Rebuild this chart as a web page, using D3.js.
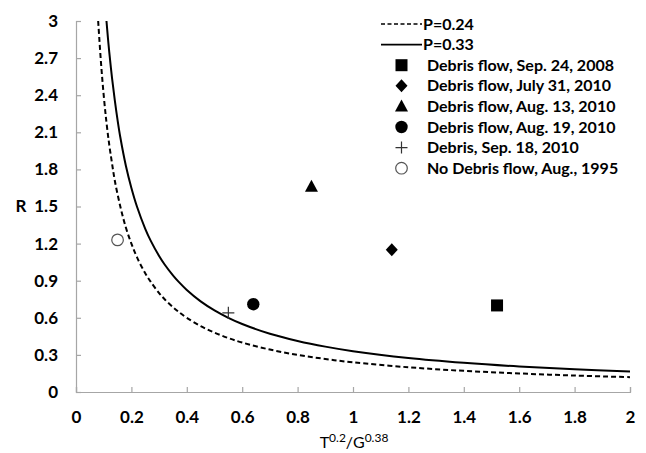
<!DOCTYPE html>
<html>
<head>
<meta charset="utf-8">
<script src="https://cdn.jsdelivr.net/npm/d3@7"></script>
<style>
  body { margin: 0; background: #fff; }
  text { font-family: Lato, "Open Sans", sans-serif; }
</style>
</head>
<body>
<div id="chart"></div>
<script>
// Plot constants
const WIDTH = 646;
const HEIGHT = 453;
const margin = {top: 21, right: 16, bottom: 61, left: 76};

// Threshold curves
const curveX24 = [0.08, 0.09, 0.1, 0.11, 0.12, 0.13, 0.14, 0.16, 0.18, 0.2, 0.22, 0.25, 0.27, 0.3, 0.32, 0.35, 0.37, 0.4, 0.45, 0.5, 0.55, 0.6, 0.7, 0.8, 0.9, 1, 1.2, 1.4, 1.6, 1.8, 2];
const curveR24 = [3.0, 2.67, 2.4, 2.18, 2.0, 1.85, 1.71, 1.5, 1.33, 1.2, 1.09, 0.96, 0.89, 0.8, 0.75, 0.686, 0.649, 0.6, 0.533, 0.48, 0.436, 0.4, 0.343, 0.3, 0.267, 0.24, 0.2, 0.171, 0.15, 0.133, 0.12];
const curveX33 = [0.11, 0.115, 0.12, 0.13, 0.14, 0.15, 0.16, 0.18, 0.2, 0.22, 0.25, 0.27, 0.3, 0.32, 0.35, 0.37, 0.4, 0.45, 0.5, 0.55, 0.6, 0.7, 0.8, 0.9, 1, 1.2, 1.4, 1.6, 1.8, 2];
const curveR33 = [3.0, 2.87, 2.75, 2.54, 2.36, 2.2, 2.06, 1.83, 1.65, 1.5, 1.32, 1.222, 1.1, 1.031, 0.943, 0.892, 0.825, 0.733, 0.66, 0.6, 0.55, 0.471, 0.413, 0.367, 0.33, 0.275, 0.236, 0.206, 0.183, 0.165];

// Events
const eventNames = [
  "Debris flow, Sep. 24, 2008",
  "Debris flow, July 31, 2010",
  "Debris flow, Aug. 13, 2010",
  "Debris flow, Aug. 19, 2010",
  "Debris, Sep. 18, 2010",
  "No Debris flow, Aug., 1995",
];
const eventX = [1.52, 1.14, 0.85, 0.64, 0.55, 0.15];
const eventR = [0.70, 1.15, 1.66, 0.71, 0.64, 1.23];
const eventShape = ["square", "diamond", "triangle", "circle", "cross", "open"];

const xTicks = [0, 0.2, 0.4, 0.6, 0.8, 1, 1.2, 1.4, 1.6, 1.8, 2];
const yTicks = [0, 0.3, 0.6, 0.9, 1.2, 1.5, 1.8, 2.1, 2.4, 2.7, 3];

const svg = d3.select("#chart").append("svg")
  .attr("width", WIDTH)
  .attr("height", HEIGHT);

const x = d3.scaleLinear().domain([0, 2]).range([margin.left, WIDTH - margin.right]);
const y = d3.scaleLinear().domain([0, 3]).range([HEIGHT - margin.bottom, margin.top]);

// Axes
const xAxis = svg.append("g")
  .attr("transform", `translate(0,${y(0)})`)
  .call(d3.axisBottom(x).tickValues(xTicks).tickSize(-5).tickPadding(19).tickFormat(d3.format("")));
const yAxis = svg.append("g")
  .attr("transform", `translate(${x(0)},0)`)
  .call(d3.axisLeft(y).tickValues(yTicks).tickSize(-5).tickPadding(18).tickFormat(d3.format("")));

[xAxis, yAxis].forEach(a => {
  a.select(".domain").attr("stroke", "#a6a6a6").attr("stroke-width", 1.2);
  a.selectAll(".tick line").attr("stroke", "#a6a6a6").attr("stroke-width", 1.2);
  a.selectAll(".tick text")
    .attr("fill", "#000")
    .attr("font-size", "17px")
    .attr("font-weight", "bold")
    .attr("font-family", "Lato, sans-serif");
});

// Axis titles
svg.append("text")
  .attr("x", 21).attr("y", y(1.5))
  .attr("dy", "0.35em")
  .attr("text-anchor", "middle")
  .attr("font-size", "17px").attr("font-weight", "bold")
  .text("R");

const xt = svg.append("text")
  .attr("x", 354).attr("y", 448)
  .attr("text-anchor", "middle")
  .attr("font-size", "16px");
xt.append("tspan").text("T");
xt.append("tspan").attr("font-size", "12px").attr("dy", -6).text("0.2");
xt.append("tspan").attr("dy", 6).text("/G");
xt.append("tspan").attr("font-size", "12px").attr("dy", -6).text("0.38");

// Curves
const line = d3.line().x(d => x(d[0])).y(d => y(d[1])).curve(d3.curveCatmullRom.alpha(0.5));
svg.append("path")
  .datum(d3.zip(curveX24, curveR24))
  .attr("d", line)
  .attr("fill", "none").attr("stroke", "#000")
  .attr("stroke-width", 2).attr("stroke-dasharray", "5,3");
svg.append("path")
  .datum(d3.zip(curveX33, curveR33))
  .attr("d", line)
  .attr("fill", "none").attr("stroke", "#000")
  .attr("stroke-width", 2);

// Markers
function drawMarker(g, shape, cx, cy) {
  if (shape === "square") {
    g.append("rect").attr("x", cx - 6).attr("y", cy - 6).attr("width", 12).attr("height", 12).attr("fill", "#000");
  } else if (shape === "diamond") {
    g.append("path").attr("d", `M${cx},${cy - 6.5}L${cx + 6},${cy}L${cx},${cy + 6.5}L${cx - 6},${cy}Z`).attr("fill", "#000");
  } else if (shape === "triangle") {
    g.append("path").attr("d", `M${cx},${cy - 7}L${cx + 6.5},${cy + 5}L${cx - 6.5},${cy + 5}Z`).attr("fill", "#000");
  } else if (shape === "circle") {
    g.append("circle").attr("cx", cx).attr("cy", cy).attr("r", 6.2).attr("fill", "#000");
  } else if (shape === "cross") {
    g.append("path").attr("d", `M${cx - 6},${cy}H${cx + 6}M${cx},${cy - 6}V${cy + 6}`)
      .attr("stroke", "#333").attr("stroke-width", 1.2).attr("fill", "none");
  } else {
    g.append("circle").attr("cx", cx).attr("cy", cy).attr("r", 5.8)
      .attr("fill", "#fff").attr("stroke", "#555").attr("stroke-width", 1.2);
  }
}

const marks = svg.append("g");
eventShape.forEach((s, i) => drawMarker(marks, s, x(eventX[i]), y(eventR[i])));

// Legend
const legend = svg.append("g");
const legY0 = 24, legStep = 20.6;
const legTexts = ["P=0.24", "P=0.33"].concat(eventNames);
legTexts.forEach((t, i) => {
  const ly = legY0 + i * legStep;
  if (i < 2) {
    legend.append("line")
      .attr("x1", 381).attr("x2", 422).attr("y1", ly).attr("y2", ly)
      .attr("stroke", "#000").attr("stroke-width", i === 0 ? 1.5 : 1.8)
      .attr("stroke-dasharray", i === 0 ? "4,2.5" : null);
  } else {
    drawMarker(legend, eventShape[i - 2], 401.5, ly);
  }
  legend.append("text")
    .attr("x", i < 2 ? 423 : 427).attr("y", ly).attr("dy", "0.35em")
    .attr("font-size", "16px").attr("font-weight", "bold")
    .text(t);
});
</script>
</body>
</html>
